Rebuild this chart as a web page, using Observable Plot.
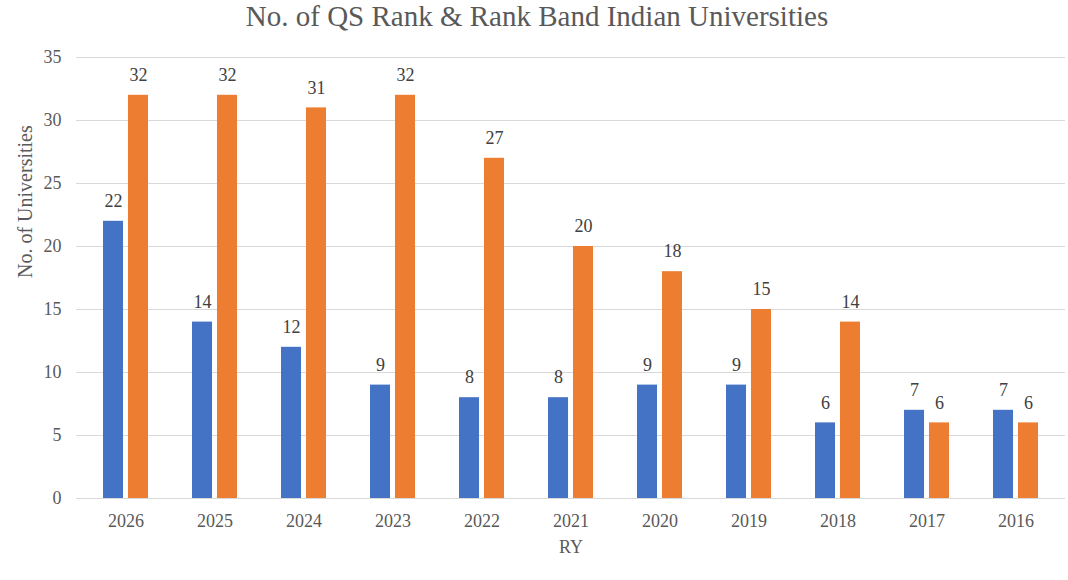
<!DOCTYPE html>
<html>
<head>
<meta charset="utf-8">
<script src="https://cdn.jsdelivr.net/npm/d3@7"></script>
<script src="https://cdn.jsdelivr.net/npm/@observablehq/plot@0.6"></script>
<style>
  html, body { margin: 0; padding: 0; background: #fff; }
  #title { height: 38px; line-height: 32px; text-align: center; font-size: 29px; color: #595959; padding-left: 6px; white-space: nowrap; }
</style>
</head>
<body>
<div id="title" style="font-family:'Liberation Serif'">No. of QS Rank &amp; Rank Band Indian Universities</div>
<div id="chart"></div>
<script>
const years = ["2026","2025","2024","2023","2022","2021","2020","2019","2018","2017","2016"];
const seriesNames = ["QS Rank", "Rank Band"];
const qsRank = [22,14,12,9,8,8,9,9,6,7,7];
const rankBand = [32,32,31,32,27,20,18,15,14,6,6];
const colors = ["#4472C4", "#ED7D31"];
const yTicks = [0,5,10,15,20,25,30,35];

const font = "'Liberation Serif'";
const W = 1068, ML = 76, MR = 3;
const step = (W - ML - MR) / years.length;
const band = step * 0.5;          // group width (two bars + gap)
const barW = band * (20 / 45);    // single bar width
const inset = band - barW;
const off = (band - barW) / 2;    // distance from group centre to bar centre

const blueData = years.map((y, i) => ({year: y, series: seriesNames[0], value: qsRank[i]}));
const orangeData = years.map((y, i) => ({year: y, series: seriesNames[1], value: rankBand[i]}));

const chart = Plot.plot({
  width: W,
  height: 542,
  marginLeft: ML,
  marginRight: MR,
  marginTop: 19,
  marginBottom: 82,
  style: { fontFamily: font, fontSize: "18px", color: "#595959", background: "#fff" },
  x: { domain: years, paddingInner: 0.5, paddingOuter: 0.25, label: null },
  y: { domain: [0, 35], label: null },
  marks: [
    Plot.gridY(yTicks, { stroke: "#d9d9d9", strokeOpacity: 1, strokeWidth: 1.2 }),
    Plot.axisY(yTicks, { tickSize: 0, tickPadding: 15, fontSize: 18, fill: "#595959", fontFamily: font,
      label: null }),
    Plot.text(["No. of Universities"], { frameAnchor: "left", dx: -51, rotate: -90, fontSize: 20, fill: "#595959", fontFamily: font }),
    Plot.axisX({ tickSize: 0, tickPadding: 16, fontSize: 18, fill: "#595959", fontFamily: font,
      label: "RY", labelAnchor: "center", labelArrow: "none", labelOffset: 54 }),
    Plot.barY(blueData, { x: "year", y: "value", fill: colors[0], insetRight: inset }),
    Plot.barY(orangeData, { x: "year", y: "value", fill: colors[1], insetLeft: inset }),
    Plot.text(blueData, { x: "year", y: "value", text: d => String(d.value), dx: -off, dy: -20, fontSize: 18, fill: "#404040", fontFamily: font }),
    Plot.text(orangeData, { x: "year", y: "value", text: d => String(d.value), dx: off, dy: -20, fontSize: 18, fill: "#404040", fontFamily: font })
  ]
});
document.getElementById("chart").appendChild(chart);
</script>
</body>
</html>
